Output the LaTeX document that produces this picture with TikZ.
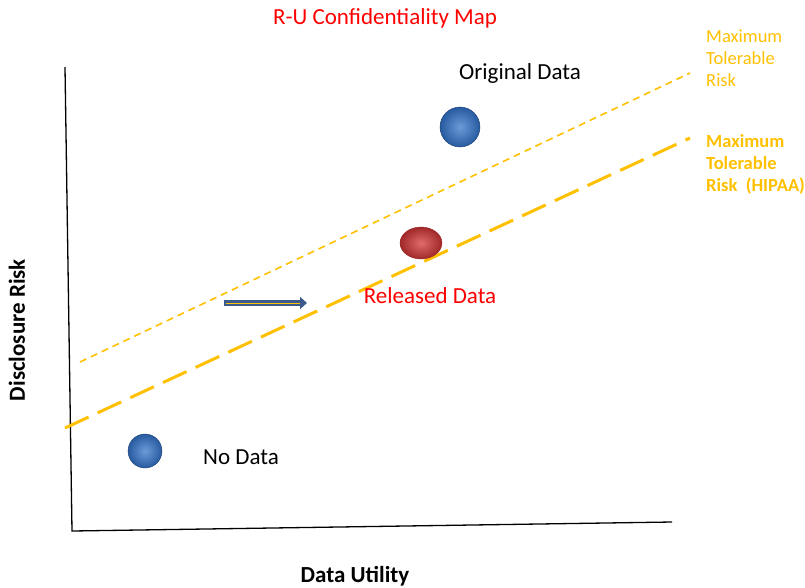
\documentclass[tikz,border=0pt]{standalone}
\usepackage{fontspec}
\setmainfont{Carlito}
\usetikzlibrary{arrows.meta,shapes.geometric}
\definecolor{gold}{RGB}{255,192,0}
\definecolor{ballblue}{RGB}{70,130,205}
\definecolor{ballblueD}{RGB}{40,90,160}
\definecolor{ballred}{RGB}{215,70,70}
\definecolor{ballredD}{RGB}{160,40,40}
\definecolor{arrowblue}{RGB}{60,90,140}
\tikzset{
  lbl/.style={font=\fontsize{23}{27}\selectfont, inner sep=0pt},
  side/.style={font=\fontsize{18.5}{22}\selectfont, text=gold, inner sep=0pt, anchor=base west},
  sideb/.style={side, font=\fontsize{18.5}{22}\selectfont\bfseries},
  bluedot/.style={circle, inner color=ballblue!80!white, outer color=ballblueD, draw=ballblueD!70!black, line width=0.4pt},
  reddot/.style={ellipse, inner color=ballred!80!white, outer color=ballredD, draw=ballredD, line width=0.4pt},
}
\begin{document}
\begin{tikzpicture}[x=1pt,y=-1pt]
\useasboundingbox (0,0) rectangle (805,587);
% axes
\coordinate (top) at (65,67);
\coordinate (origin) at (72,531);
\coordinate (right) at (672,522);
\draw[line width=1.3pt, black] (top) -- (origin) -- (right);
% risk lines
\coordinate (t1) at (80,362);
\coordinate (t2) at (690,73);
\draw[gold, line width=1.6pt, dash pattern=on 7pt off 5pt] (t1) -- (t2);
\coordinate (h1) at (65,428);
\coordinate (h2) at (690,138);
\draw[gold, line width=3pt, dash pattern=on 26pt off 10pt] (h1) -- (h2);
% dots
\node[bluedot, minimum size=40pt, inner sep=0pt] (orig) at (460,127) {};
\node[reddot, minimum width=42pt, minimum height=32pt, inner sep=0pt] (rel) at (421,243) {};
\node[bluedot, minimum size=34pt, inner sep=0pt] (nodata) at (145,451) {};
% arrow
\coordinate (a1) at (224,303);
\coordinate (a2) at (307,303);
\draw[-{Triangle[length=7pt,width=12pt]}, arrowblue, line width=6pt] (a1) -- (a2);
\draw[gold, line width=1pt] (226,303) -- (300,303);
% labels
\node[lbl, text=red] (title) at (385,18) {R-U Confidentiality Map};
\node[lbl] (origlbl) at (520,73) {Original Data};
\node[lbl, text=red] (rellbl) at (430,296) {Released Data};
\node[lbl] (nolbl) at (241,457) {No Data};
\node[lbl, font=\fontsize{23}{27}\selectfont\bfseries, rotate=90] (ylbl) at (17,330) {Disclosure Risk};
\node[lbl, font=\fontsize{23}{27}\selectfont\bfseries] (xlbl) at (355,576) {Data Utility};
\node[side] (mtr1) at (706,42) {Maximum};
\node[side] (mtr2) at (706,64) {Tolerable};
\node[side] (mtr3) at (706,86) {Risk};
\node[sideb] (hip1) at (706,147) {Maximum};
\node[sideb] (hip2) at (706,169) {Tolerable};
\node[sideb] (hip3) at (706,191) {Risk~ (HIPAA)};
\end{tikzpicture}
\end{document}
